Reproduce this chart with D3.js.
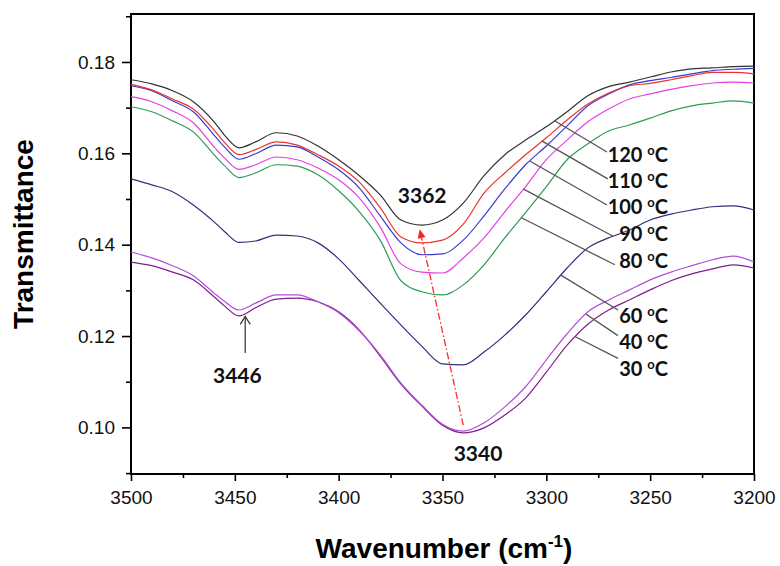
<!DOCTYPE html>
<html>
<head>
<meta charset="utf-8">
<script src="https://cdn.jsdelivr.net/npm/d3@7"></script>
<style>
    body { margin: 0; background: #fff; }
    #chart { width: 780px; height: 566px; }
    .tick text { font-family: 'Liberation Sans', Arial, sans-serif; font-size: 19px; fill: #111; }
    .tick line { stroke: #000; stroke-width: 1.6; }
    .axis-title { font-family: 'Liberation Sans', Arial, sans-serif; font-size: 28px; font-weight: bold; fill: #000; }
    .note { font-family: Lato, 'Open Sans', sans-serif; font-weight: bold; font-size: 21px; fill: #111; }
    .temp { font-family: Lato, 'Open Sans', sans-serif; font-weight: bold; font-size: 20px; fill: #111; }
</style>
</head>
<body>
<div id="chart"></div>
<script>
///// DATOS /////
let wavenumbers = [3500, 3490, 3480, 3470, 3460, 3455, 3448, 3440, 3430, 3420, 3410, 3400, 3390, 3380, 3370, 3360,
    3350, 3340, 3330, 3320, 3310, 3300, 3290, 3280, 3270, 3260, 3250, 3240, 3230, 3220, 3210, 3200];

let t30 = [.1362, .1354, .1340, .1323, .1286, .1266, .1244, .1262, .1281, .1283, .1275, .1253, .1213, .1156, .1095, .1047,
    .1005, .0988, .0999, .1027, .1064, .1121, .1180, .1226, .1257, .1279, .1301, .1321, .1336, .1347, .1356, .1349];
let t40 = [.1384, .1371, .1354, .1332, .1294, .1276, .1257, .1272, .1290, .1290, .1275, .1251, .1211, .1159, .1097, .1049,
    .1007, .0992, .1010, .1045, .1089, .1148, .1205, .1253, .1279, .1301, .1323, .1340, .1354, .1367, .1375, .1362];
let t60 = [.1544, .1531, .1516, .1487, .1450, .1429, .1405, .1408, .1421, .1419, .1404, .1369, .1321, .1272, .1224, .1178,
    .1139, .1137, .1165, .1202, .1246, .1297, .1349, .1393, .1415, .1432, .1454, .1467, .1476, .1483, .1485, .1476];
let t80 = [.1702, .1691, .1671, .1647, .1597, .1573, .1547, .1557, .1575, .1572, .1553, .1518, .1472, .1410, .1321, .1297,
    .1290, .1312, .1356, .1415, .1470, .1527, .1586, .1621, .1649, .1662, .1677, .1693, .1704, .1710, .1715, .1710];
let t90 = [.1724, .1713, .1693, .1667, .1614, .1590, .1565, .1575, .1592, .1586, .1568, .1542, .1502, .1439, .1358, .1340,
    .1338, .1371, .1415, .1472, .1527, .1586, .1629, .1669, .1697, .1719, .1730, .1740, .1748, .1754, .1756, .1754];
let t100 = [.1748, .1737, .1715, .1691, .1640, .1614, .1587, .1599, .1618, .1614, .1592, .1564, .1524, .1463, .1404, .1378,
    .1380, .1410, .1463, .1522, .1575, .1616, .1660, .1704, .1730, .1750, .1759, .1766, .1774, .1781, .1784, .1786];
let t110 = [.1751, .1739, .1719, .1697, .1651, .1624, .1597, .1608, .1625, .1618, .1597, .1572, .1537, .1481, .1417, .1404,
    .1410, .1445, .1513, .1557, .1597, .1634, .1673, .1708, .1732, .1748, .1753, .1761, .1770, .1777, .1777, .1774];
let t120 = [.1761, .1752, .1737, .1713, .1669, .1640, .1612, .1625, .1645, .1638, .1616, .1586, .1551, .1509, .1454, .1443,
    .1454, .1491, .1551, .1597, .1629, .1658, .1691, .1726, .1746, .1756, .1767, .1778, .1785, .1787, .1790, .1791];

let temperatures = ['30', '40', '60', '80', '90', '100', '110', '120'];
let series = [t30, t40, t60, t80, t90, t100, t110, t120];

let xTicks = [3500, 3450, 3400, 3350, 3300, 3250, 3200];
let xMinorTicks = [3475, 3425, 3375, 3325, 3275, 3225];
let yTicks = [0.10, 0.12, 0.14, 0.16, 0.18];
let yMinorTicks = [0.09, 0.11, 0.13, 0.15, 0.17, 0.19];

//Etiquetas de temperatura: punto de la curva, final de la guía y texto
let leaderFrom = [3286, 3281, 3293, 3312, 3311, 3308, 3302, 3296];
let leaderEndW = [3265.5, 3265.5, 3265.5, 3267, 3268, 3270.8, 3270.4, 3270.8];
let leaderEndV = [0.1151, 0.1201, 0.1257, 0.1356, 0.1419, 0.1487, 0.1544, 0.1603];
let labelV = [0.1113, 0.1172, 0.1228, 0.1348, 0.1407, 0.1467, 0.1523, 0.1582];
let labelW = 3241.4;

//Picos
let peakNames = ['3362', '3446', '3340'];
let peakW = [3359.8, 3448.8, 3332.9];
let peakV = [0.1491, 0.1097, 0.0926];

///// ESTILOS /////
let colors = ['#7d1f8e', '#b24fd8', '#2f2f7c', '#2f9a55', '#e53fe5', '#3a3acf', '#e8342c', '#333333'];

///// GRÁFICO /////
let chartBlock = d3.select('#chart');
let margin = {top: 14, right: 26, bottom: 92, left: 131};
let width = 780 - margin.left - margin.right,
    height = 566 - margin.top - margin.bottom;

let svg = chartBlock.append('svg')
    .attr('width', 780)
    .attr('height', 566);

svg.append('rect').attr('width', 780).attr('height', 566).attr('fill', '#fff');

let chart = svg.append('g')
    .attr('transform', 'translate(' + margin.left + ',' + margin.top + ')');

let x = d3.scaleLinear().domain([3500, 3200]).range([0, width]);
let y = d3.scaleLinear().domain([0.0898, 0.1905]).range([height, 0]);

//Ejes
chart.append('g')
    .call(d3.axisLeft(y).tickValues(yTicks).tickSize(9).tickPadding(7).tickFormat(d3.format('.2f')))
    .call(function(g){ g.select('.domain').remove(); });

chart.append('g')
    .call(d3.axisLeft(y).tickValues(yMinorTicks).tickSize(5).tickFormat(''))
    .call(function(g){ g.select('.domain').remove(); });

chart.append('g')
    .attr('transform', 'translate(0,' + height + ')')
    .call(d3.axisBottom(x).tickValues(xTicks).tickSize(7).tickPadding(10).tickFormat(d3.format('d')))
    .call(function(g){ g.select('.domain').remove(); });

chart.append('g')
    .attr('transform', 'translate(0,' + height + ')')
    .call(d3.axisBottom(x).tickValues(xMinorTicks).tickSize(4).tickFormat(''))
    .call(function(g){ g.select('.domain').remove(); });

chart.selectAll('.tick text').attr('font-family', null).attr('font-size', null);

//Marco
chart.append('rect')
    .attr('width', width)
    .attr('height', height)
    .attr('fill', 'none')
    .attr('stroke', '#000')
    .attr('stroke-width', 2);

//Curvas
let line = d3.line()
    .x(function(d, i) { return x(wavenumbers[i]); })
    .y(function(d) { return y(d); })
    .curve(d3.curveMonotoneX);

chart.selectAll('.serie')
    .data(series)
    .enter()
    .append('path')
    .attr('class', 'serie')
    .attr('d', line)
    .attr('fill', 'none')
    .attr('stroke', function(d, i) { return colors[i]; })
    .attr('stroke-width', 1.2);

function valueAt(values, w) {
    for (let i = 0; i < wavenumbers.length - 1; i++) {
        if (wavenumbers[i] >= w && wavenumbers[i + 1] <= w) {
            let t = (wavenumbers[i] - w) / (wavenumbers[i] - wavenumbers[i + 1]);
            return values[i] + t * (values[i + 1] - values[i]);
        }
    }
    return values[values.length - 1];
}

//Guías y etiquetas de temperatura
temperatures.forEach(function(temp, i) {
    chart.append('line')
        .attr('x1', x(leaderFrom[i]))
        .attr('y1', y(valueAt(series[i], leaderFrom[i])))
        .attr('x2', x(leaderEndW[i]))
        .attr('y2', y(leaderEndV[i]))
        .attr('stroke', '#555')
        .attr('stroke-width', 1.3);

    let txt = chart.append('text')
        .attr('class', 'temp')
        .attr('x', x(labelW))
        .attr('y', y(labelV[i]))
        .attr('text-anchor', 'end');
    txt.append('tspan').text(temp + ' ');
    txt.append('tspan').attr('font-size', 13).attr('dy', -7).text('o');
    txt.append('tspan').attr('dy', 7).text('C');
});

//Picos
peakNames.forEach(function(p, i) {
    chart.append('text')
        .attr('class', 'note')
        .attr('x', x(peakW[i]))
        .attr('y', y(peakV[i]))
        .attr('text-anchor', 'middle')
        .text(p);
});

//Flecha roja de desplazamiento 3340 -> 3362
let ax1 = x(3340), ay1 = y(0.1005), ax2 = x(3361), ay2 = y(0.1434);
let ang = Math.atan2(ay2 - ay1, ax2 - ax1);
let headLen = 9, headW = 4;
let bx = ax2 - headLen * Math.cos(ang), by = ay2 - headLen * Math.sin(ang);
chart.append('line')
    .attr('x1', ax1).attr('y1', ay1)
    .attr('x2', bx).attr('y2', by)
    .attr('stroke', '#ff2a2a')
    .attr('stroke-width', 1.3)
    .attr('stroke-dasharray', '7,2.5,1.5,2.5');
chart.append('path')
    .attr('d', 'M' + ax2 + ',' + ay2 +
        'L' + (bx + headW * Math.sin(ang)) + ',' + (by - headW * Math.cos(ang)) +
        'L' + (bx - headW * Math.sin(ang)) + ',' + (by + headW * Math.cos(ang)) + 'Z')
    .attr('fill', '#ff2020');

//Flecha negra 3446
let px = x(3445), pTop = y(0.1243), pBot = y(0.1163);
chart.append('line')
    .attr('x1', px).attr('y1', pBot)
    .attr('x2', px).attr('y2', pTop)
    .attr('stroke', '#333')
    .attr('stroke-width', 1.2);
chart.append('path')
    .attr('d', 'M' + (px - 5) + ',' + (pTop + 8) + 'L' + px + ',' + pTop + 'L' + (px + 5) + ',' + (pTop + 8))
    .attr('fill', 'none')
    .attr('stroke', '#333')
    .attr('stroke-width', 1.2);

//Títulos de ejes
svg.append('text')
    .attr('class', 'axis-title')
    .attr('transform', 'translate(33,234) rotate(-90)')
    .attr('text-anchor', 'middle')
    .text('Transmittance');

let xt = svg.append('text')
    .attr('class', 'axis-title')
    .attr('x', 444)
    .attr('y', 558)
    .attr('text-anchor', 'middle');
xt.append('tspan').text('Wavenumber (cm');
xt.append('tspan').attr('font-size', 17).attr('dy', -11).text('-1');
xt.append('tspan').attr('dy', 11).text(')');
</script>
</body>
</html>
